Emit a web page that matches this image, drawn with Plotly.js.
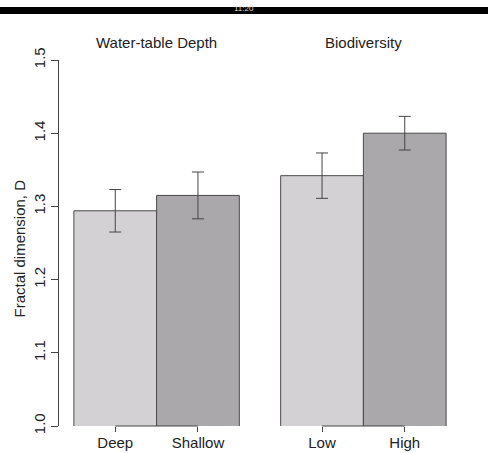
<!DOCTYPE html>
<html>
<head>
<meta charset="utf-8">
<script src="https://cdn.plot.ly/plotly-3.0.1.min.js"></script>
<style>html,body{margin:0;padding:0;background:#fff;}#chart{width:488px;height:453px;}</style>
</head>
<body>
<div id="chart"></div>
<script>
// Data
const categories = ["Deep", "Shallow", "Low", "High"];
const positions = [1, 2, 3.5, 4.5];
const values = [1.294, 1.315, 1.342, 1.400];
const errors = [0.029, 0.032, 0.031, 0.023];
const groupTitles = ["Water-table Depth", "Biodiversity"];
const groupCenters = [1.5, 4];
const yTickVals = [1.0, 1.1, 1.2, 1.3, 1.4, 1.5];
const yTickText = ["1.0", "1.1", "1.2", "1.3", "1.4", "1.5"];
const yTitle = "Fractal dimension, D";

const barColors = ["#d4d1d4", "#aaa8ab", "#d4d1d4", "#aaa8ab"];
const FONT = "Liberation Sans, Arial, sans-serif";

const trace = {
  type: "bar",
  x: positions,
  y: values,
  width: 1,
  marker: {color: barColors, line: {color: "#4a4a4a", width: 1}},
  error_y: {type: "data", array: errors, visible: true, color: "#444444", thickness: 1, width: 6},
  hoverinfo: "x+y",
  showlegend: false
};

const annotations = groupTitles.map((t, i) => ({
  text: t, x: groupCenters[i], xref: "x", y: 1.049, yref: "paper",
  xanchor: "center", yanchor: "middle",
  showarrow: false, font: {family: FONT, size: 15, color: "#222"}
}));
annotations.push({
  text: yTitle, x: -0.1007, xref: "paper", y: 0.4836, yref: "paper",
  xanchor: "center", yanchor: "middle", textangle: -90,
  showarrow: false, font: {family: FONT, size: 15, color: "#222"}
});
annotations.push({
  text: "11:20", x: 0.46, xref: "paper", y: 1.14, yref: "paper",
  xanchor: "center", yanchor: "middle",
  showarrow: false, font: {family: FONT, size: 8, color: "#dddddd"}
});

const shapes = [
  {type: "line", xref: "x", yref: "paper", x0: positions[0], x1: positions[1], y0: 0, y1: 0, line: {color: "#444", width: 1}},
  {type: "line", xref: "x", yref: "paper", x0: positions[2], x1: positions[3], y0: 0, y1: 0, line: {color: "#444", width: 1}},
  {type: "rect", xref: "paper", yref: "paper", x0: -0.2, x1: 1.2, y0: 1.1257, y1: 1.1448, fillcolor: "#000", line: {width: 0}, layer: "below"}
];

const layout = {
  width: 488, height: 453,
  margin: {l: 59, r: 27, t: 60, b: 27, pad: 0},
  paper_bgcolor: "#fff", plot_bgcolor: "#fff",
  font: {family: FONT, size: 15, color: "#222"},
  bargap: 0,
  xaxis: {
    range: [0.32, 5.18], showgrid: false, zeroline: false, showline: false,
    tickmode: "array", tickvals: positions, ticktext: categories,
    ticks: "outside", ticklen: 5, tickcolor: "#444", tickwidth: 1,
    ticklabelstandoff: -2,
    tickfont: {family: FONT, size: 15, color: "#222"}
  },
  yaxis: {
    range: [1.0, 1.5], showgrid: false, zeroline: false,
    showline: true, linecolor: "#444", linewidth: 1,
    tickmode: "array", tickvals: yTickVals, ticktext: yTickText,
    ticks: "outside", ticklen: 7, tickcolor: "#444", tickwidth: 1,
    tickangle: -90,
    tickfont: {family: FONT, size: 15, color: "#222"}
  },
  annotations: annotations,
  shapes: shapes
};

Plotly.newPlot("chart", [trace], layout, {displayModeBar: false, staticPlot: true});
</script>
</body>
</html>
